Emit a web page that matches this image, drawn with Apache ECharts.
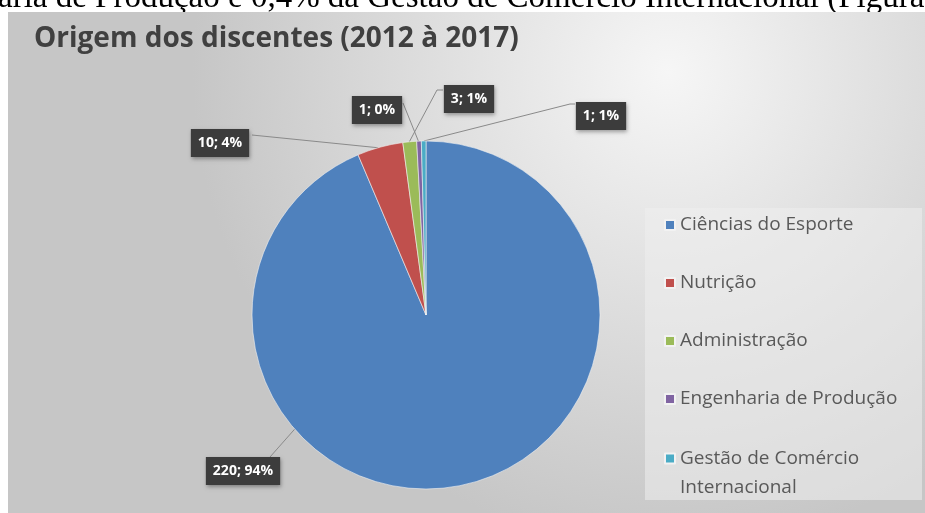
<!DOCTYPE html>
<html>
<head>
<meta charset="utf-8">
<script src="https://cdn.jsdelivr.net/npm/echarts@6/dist/echarts.min.js"></script>
<style>
html, body { margin: 0; padding: 0; background: #fff; }
#grafico { width: 925px; height: 513px; }
</style>
</head>
<body>
<div id="grafico"></div>
<script>
// dados do gráfico
var cursos = ['Ciências do Esporte', 'Nutrição', 'Administração', 'Engenharia de Produção', 'Gestão de Comércio Internacional'];
var discentes = [220, 10, 3, 1, 1];
// percentuais como aparecem nos rótulos do Excel
var percentuais = ['94%', '4%', '1%', '0%', '1%'];
var cores = ['#4f81bd', '#c0504d', '#9bbb59', '#8064a2', '#4bacc6'];

var titulo = 'Origem dos discentes (2012 à 2017)';
var legenda = 'aria de Produção e 0,4% da Gestão de Comércio Internacional (Figura 1).';

// layout da pizza e dos rótulos (caixa no centro x,y; ang = ponto de ligação na borda)
var CX = 426, CY = 315, R = 174;
var rotulos = [
	{x: 243, y: 471, ang: 229, fim: [270, 457]},
	{x: 220, y: 143, ang: 344, fim: [252, 135]},
	{x: 469, y: 99, ang: 354.5, cot: [437, 90], fim: [443, 90]},
	{x: 377, y: 110, ang: 357.5, fim: [403, 103]},
	{x: 601, y: 116, ang: 359.3, cot: [570, 104], fim: [575, 104]}
];

var dados = [];
for (var i = 0; i < cursos.length; i++) {
	dados.push({name: cursos[i], value: discentes[i], itemStyle: {color: cores[i]}});
}

var myChart = echarts.init(document.getElementById('grafico'));

var textoLegenda = {fontFamily: 'Open Sans', fontSize: 19, color: '#595959', lineHeight: 22};

option = {
	animation: false,
	title: {
		text: titulo,
		left: 34,
		top: 25,
		padding: 0,
		textStyle: {fontFamily: 'Open Sans', fontWeight: 'bold', fontSize: 28, color: '#404040'}
	},
	graphic: [
		// pedaço do texto do documento acima da figura
		{type: 'text', z: 0, style: {text: legenda, x: -2, y: -2, fill: '#000', font: '33px "Liberation Serif"', verticalAlign: 'middle'}},
		// fundo do gráfico
		{type: 'rect', z: 1, shape: {x: 8, y: 12, width: 917, height: 501},
			style: {fill: new echarts.graphic.RadialGradient(0.72, 0.12, 0.95, [
				{offset: 0, color: '#f6f6f6'},
				{offset: 1, color: '#c6c6c6'}
			])}},
		// caixa da legenda
		{type: 'rect', z: 1, shape: {x: 645, y: 208, width: 277, height: 292},
			style: {fill: 'rgba(238,238,238,0.55)'}}
	],
	legend: [
		{
			orient: 'vertical',
			left: 664,
			top: 214,
			padding: 0,
			itemWidth: 10,
			itemHeight: 10,
			itemGap: 36,
			icon: 'rect',
			data: cursos.slice(0, 4),
			textStyle: textoLegenda
		},
		{
			// item de duas linhas: quadrado alinhado com a primeira linha
			orient: 'vertical',
			left: 664,
			top: 415,
			padding: 0,
			itemWidth: 10,
			itemHeight: 10,
			icon: 'rect',
			data: cursos.slice(4),
			formatter: function(n) { return '\n' + n.replace(' Internacional', '\nInternacional'); },
			textStyle: echarts.util.extend(echarts.util.clone(textoLegenda), {lineHeight: 29})
		}
	],
	series: [{
		type: 'pie',
		center: [CX, CY],
		radius: R,
		startAngle: 90,
		clockwise: true,
		avoidLabelOverlap: false,
		data: dados,
		itemStyle: {borderColor: '#f2f2f2', borderWidth: 0.6},
		label: {
			show: true,
			position: 'outside',
			formatter: function(p) { return p.value + '; ' + percentuais[p.dataIndex]; },
			color: '#fff',
			fontFamily: 'Open Sans',
			fontWeight: 'bold',
			fontSize: 14,
			lineHeight: 18,
			backgroundColor: '#3c3c3c',
			padding: [5, 7, 5, 7],
			shadowBlur: 4,
			shadowOffsetX: 1,
			shadowOffsetY: 2,
			shadowColor: 'rgba(0,0,0,0.35)'
		},
		labelLine: {show: true, length: 10, length2: 10, lineStyle: {color: '#8a8a8a', width: 1}},
		labelLayout: function(params) {
			var s = rotulos[params.dataIndex];
			var a = s.ang * Math.PI / 180;
			var p0 = [CX + R * Math.sin(a), CY - R * Math.cos(a)];
			var meio = s.cot || [(p0[0] + s.fim[0]) / 2, (p0[1] + s.fim[1]) / 2];
			return {x: s.x, y: s.y, align: 'center', verticalAlign: 'middle', labelLinePoints: [p0, meio, s.fim]};
		}
	}]
};

myChart.setOption(option);
</script>
</body>
</html>
